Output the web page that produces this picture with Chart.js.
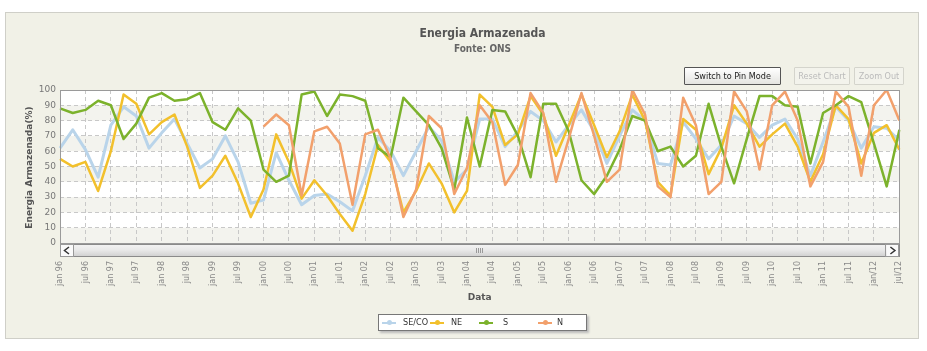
<!DOCTYPE html>
<html>
<head>
<meta charset="utf-8">
<script src="https://cdn.jsdelivr.net/npm/chart.js@4.4.0/dist/chart.umd.min.js"></script>
<style>
  html,body{margin:0;padding:0;background:#fff;}
  #wrap{position:relative;width:927px;height:351px;overflow:hidden;font-family:"DejaVu Sans",Verdana,sans-serif;}
  #panel{position:absolute;left:5px;top:12px;width:914px;height:327px;border:1px solid #cfcfc8;background:#f1f1e7;box-sizing:border-box;}
  #c{position:absolute;left:0;top:0;}
  .t1{position:absolute;left:0;width:965px;text-align:center;top:26px;font:bold 12px "DejaVu Sans Condensed","DejaVu Sans",sans-serif;color:#555;}
  .t2{position:absolute;left:0;width:965px;text-align:center;top:43px;font:bold 10px "DejaVu Sans Condensed","DejaVu Sans",sans-serif;color:#666;}
  .btn{position:absolute;top:67px;height:18px;box-sizing:border-box;font:9px "DejaVu Sans Condensed","DejaVu Sans",sans-serif;line-height:16px;text-align:center;border-radius:1px;}
  .b1{left:684px;width:97px;border:1px solid #555;background:linear-gradient(#ffffff,#e4e4e0);color:#222;}
  .b2{left:794px;width:56px;border:1px solid #d4d4cc;background:#f3f3ec;color:#bbb;}
  .b3{left:854px;width:50px;border:1px solid #d4d4cc;background:#f3f3ec;color:#bbb;}
  #legend{position:absolute;left:378px;top:314px;width:209px;height:17px;box-sizing:border-box;border:1px solid #777;background:#fff;box-shadow:2px 2px 2px #bbb;}
  .li{position:absolute;top:0;height:15px;font:9px "DejaVu Sans Condensed","DejaVu Sans",sans-serif;line-height:15px;color:#333;}
  .mk{position:absolute;top:7px;width:14px;height:2px;}
  .mk i{position:absolute;left:5px;top:-2px;width:5px;height:5px;border-radius:50%;background:inherit;}
</style>
</head>
<body>
<div id="wrap">
  <div id="panel"></div>
  <canvas id="c" width="927" height="351"></canvas>
  <div class="t1">Energia Armazenada</div>
  <div class="t2">Fonte: ONS</div>
  <div class="btn b1">Switch to Pin Mode</div>
  <div class="btn b2">Reset Chart</div>
  <div class="btn b3">Zoom Out</div>
  <div id="legend"></div>
</div>
<script>
// ---------- DATA ----------
const categories = [
 'jan 96','abr 96','jul 96','out 96','jan 97','abr 97','jul 97','out 97','jan 98','abr 98','jul 98','out 98',
 'jan 99','abr 99','jul 99','out 99','jan 00','abr 00','jul 00','out 00','jan 01','abr 01','jul 01','out 01',
 'jan 02','abr 02','jul 02','out 02','jan 03','abr 03','jul 03','out 03','jan 04','abr 04','jul 04','out 04',
 'jan 05','abr 05','jul 05','out 05','jan 06','abr 06','jul 06','out 06','jan 07','abr 07','jul 07','out 07',
 'jan 08','abr 08','jul 08','out 08','jan 09','abr 09','jul 09','out 09','jan 10','abr 10','jul 10','out 10',
 'jan 11','abr 11','jul 11','out 11','jan/12','abr/12','jul/12'
];
const tickLabels = [
 'jan 96','jul 96','jan 97','jul 97','jan 98','jul 98','jan 99','jul 99','jan 00','jul 00',
 'jan 01','jul 01','jan 02','jul 02','jan 03','jul 03','jan 04','jul 04','jan 05','jul 05',
 'jan 06','jul 06','jan 07','jul 07','jan 08','jul 08','jan 09','jul 09','jan 10','jul 10',
 'jan 11','jul 11','jan/12','jul/12'
];
const yTicks = [0,10,20,30,40,50,60,70,80,90,100];
const seriesNames = ['SE/CO','NE','S','N'];
const seco = [62,74,61,43,77,89,83,62,72,81,65,49,55,70,53,26,28,59,41,25,31,32,27,21,44,69,60,44,60,76,67,40,48,81,81,63,73,86,80,66,77,87,73,52,70,87,80,52,51,79,68,55,64,83,78,69,77,81,68,44,66,89,80,62,76,75,67];
const ne   = [55,50,53,34,60,97,91,71,79,84,63,36,44,57,39,17,35,71,53,29,41,31,19,8,32,64,53,20,34,52,39,20,34,97,89,64,71,96,84,57,77,97,77,56,73,97,80,40,31,81,74,45,62,90,78,63,71,78,63,40,58,90,81,52,72,77,61];
const s    = [88,85,87,93,90,68,78,95,98,93,94,98,79,74,88,80,48,40,44,97,99,83,97,96,93,62,56,95,86,77,62,35,82,50,87,86,70,43,91,91,73,41,32,44,61,83,80,60,63,50,57,91,63,39,68,96,96,90,89,52,85,90,96,92,65,37,74];
const n    = [null,null,null,null,null,null,null,null,null,null,null,null,null,null,null,null,76,84,77,31,73,76,65,25,71,74,55,17,35,83,75,32,49,90,79,38,51,98,85,40,68,98,70,40,48,100,84,37,30,95,77,32,40,99,86,48,90,99,80,37,53,99,89,44,90,100,80];
const colors = ['#b9d4ea','#f2c02c','#7cb22c','#f2a06c'];

// ---------- LEGEND (HTML) ----------
const legendPos = [[3,24],[51,72],[100,124],[159,178]];
const leg = document.getElementById('legend');
seriesNames.forEach((nm,i)=>{
  const m = document.createElement('div'); m.className='mk'; m.style.left=legendPos[i][0]+'px'; m.style.background=colors[i];
  m.innerHTML='<i></i>'; leg.appendChild(m);
  const t = document.createElement('div'); t.className='li'; t.style.left=legendPos[i][1]+'px'; t.textContent=nm; leg.appendChild(t);
});

// ---------- PLUGIN ----------
const deco = {
  id:'deco',
  beforeDraw(chart){
    const {ctx, chartArea:a, scales:{y}} = chart;
    ctx.save();
    ctx.fillStyle='#ffffff';
    ctx.fillRect(a.left,a.top,a.width,a.height);
    ctx.fillStyle='#f3f3ee';
    for(let v=80; v>=0; v-=20){
      const y1=y.getPixelForValue(v+10), y2=y.getPixelForValue(v);
      ctx.fillRect(a.left,y1,a.width,y2-y1);
    }
    ctx.restore();
  },
  afterDraw(chart){
    const {ctx, chartArea:a} = chart;
    ctx.save();
    ctx.strokeStyle='#9a9a9a'; ctx.lineWidth=1;
    ctx.strokeRect(Math.round(a.left)+0.5,Math.round(a.top)+0.5,Math.round(a.width),Math.round(a.height));
    const sy=Math.round(a.bottom)+1, sh=12;
    const g=ctx.createLinearGradient(0,sy,0,sy+sh);
    g.addColorStop(0,'#f4f4f4'); g.addColorStop(0.5,'#e9e9e9'); g.addColorStop(1,'#d2d2d2');
    ctx.fillStyle=g; ctx.fillRect(a.left,sy,a.width,sh);
    ctx.strokeStyle='#8a8a8a';
    ctx.strokeRect(Math.round(a.left)+0.5,sy+0.5,Math.round(a.width),sh);
    ctx.fillStyle='#fafafa';
    ctx.fillRect(a.left+1,sy+1,12,sh-1); ctx.fillRect(a.right-13,sy+1,12,sh-1);
    ctx.strokeStyle='#999';
    ctx.strokeRect(Math.round(a.left)+0.5,sy+0.5,13,sh); ctx.strokeRect(Math.round(a.right)-13.5,sy+0.5,13,sh);
    ctx.strokeStyle='#333'; ctx.lineWidth=1.5;
    ctx.beginPath(); ctx.moveTo(a.left+9,sy+3); ctx.lineTo(a.left+4.5,sy+6.5); ctx.lineTo(a.left+9,sy+10); ctx.stroke();
    ctx.beginPath(); ctx.moveTo(a.right-9,sy+3); ctx.lineTo(a.right-4.5,sy+6.5); ctx.lineTo(a.right-9,sy+10); ctx.stroke();
    ctx.strokeStyle='#999'; ctx.lineWidth=1;
    const cx=Math.round((a.left+a.right)/2);
    for(let k=-2;k<2;k++){ ctx.beginPath(); ctx.moveTo(cx+k*2+0.5,sy+4); ctx.lineTo(cx+k*2+0.5,sy+9); ctx.stroke(); }
    ctx.fillStyle='#555';
    ctx.font='bold 9px "DejaVu Sans", sans-serif';
    ctx.textAlign='center'; ctx.textBaseline='middle';
    ctx.fillText('Data',(a.left+a.right)/2,298);
    ctx.translate(30,(a.top+a.bottom)/2+1);
    ctx.rotate(-Math.PI/2);
    ctx.fillText('Energia Armazenada(%)',0,0);
    ctx.restore();
  }
};

const order = [3,2,1,0];
new Chart(document.getElementById('c'),{
  type:'line',
  data:{
    labels:categories,
    datasets:[seco,ne,s,n].map((d,i)=>({
      label:seriesNames[i], data:d, borderColor:colors[i], backgroundColor:colors[i],
      borderWidth: i===0?3:2.5, pointRadius:0, pointHoverRadius:0, tension:0, spanGaps:false, fill:false,
      order:order[i], borderJoinStyle:'round'
    }))
  },
  options:{
    responsive:false, animation:false, devicePixelRatio:1,
    layout:{padding:{left:10,right:23,top:90,bottom:0}},
    plugins:{legend:{display:false},title:{display:false},tooltip:{enabled:false}},
    scales:{
      x:{
        type:'category',
        afterFit(sc){ sc.height=108; },
        grid:{drawTicks:false, color:(c)=> (c.index%2===0 && c.index>0 && c.index<categories.length-1)?'#c8c8c8':'rgba(0,0,0,0)', lineWidth:1},
        border:{display:false, dash:[4,3]},
        ticks:{autoSkip:false, minRotation:90, maxRotation:90, padding:18, color:'#888',
          font:{family:'"DejaVu Sans", sans-serif', size:8},
          callback:(v,i)=> i%2===0 ? tickLabels[i/2] : ''}
      },
      y:{
        min:0,max:100,
        afterFit(sc){ sc.width=50; },
        afterBuildTicks(sc){ sc.ticks = yTicks.map(v=>({value:v})); },
        grid:{drawTicks:false, color:(c)=> (c.tick && c.tick.value>0 && c.tick.value<100)?'#c8c8c8':'rgba(0,0,0,0)'},
        border:{display:false, dash:[4,3]},
        ticks:{padding:4, color:'#777', font:{family:'"DejaVu Sans", sans-serif', size:9}}
      }
    }
  },
  plugins:[deco]
});
</script>
</body>
</html>
